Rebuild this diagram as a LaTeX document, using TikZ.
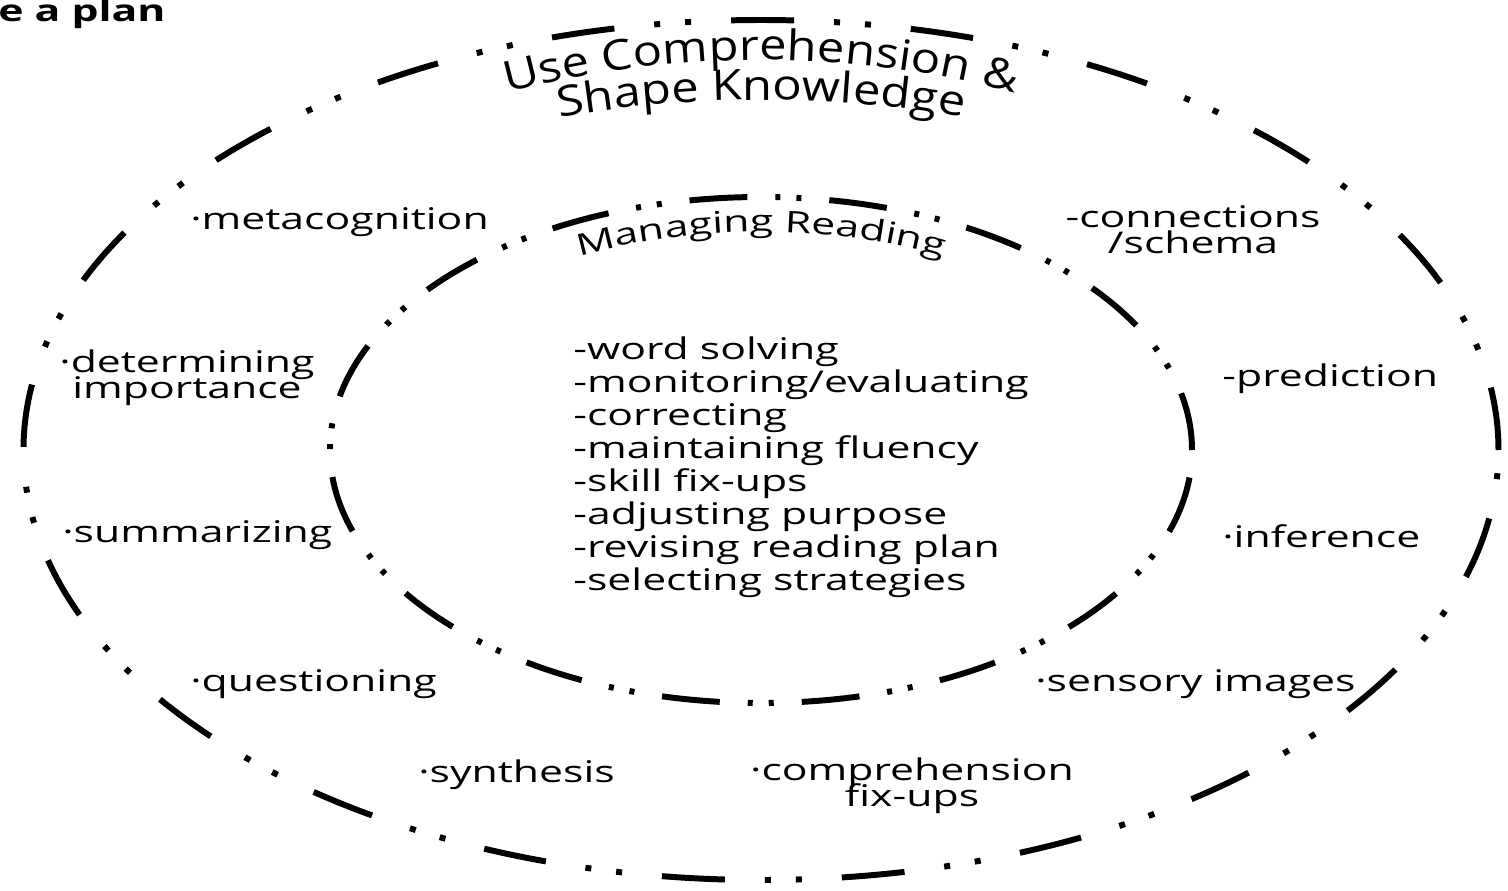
\documentclass[tikz,border=0pt]{standalone}
\usepackage{fontspec}
\setmainfont{Open Sans}[FakeStretch=1.43]
\newfontfamily\ringtitlefamily{Open Sans}[FakeStretch=1.16]
\usetikzlibrary{decorations.text}

\newcommand{\ringtitlefont}{\ringtitlefamily\fontsize{24}{28}\selectfont}
\newcommand{\ringlabelfont}{\fontsize{17}{20}\selectfont}

\begin{document}
\begin{tikzpicture}[font=\fontsize{17}{18.8}\selectfont, inner sep=0pt]
	\tikzstyle{ring}=[line width=3.4pt]
	\tikzstyle{outer ring}=[ring, dash pattern=on 1.26cm off 0.8cm on 0.12cm off 0.5cm on 0.12cm off 0.8cm]
	\tikzstyle{inner ring}=[ring, dash pattern=on 1.16cm off 0.56cm on 0.1cm off 0.32cm on 0.1cm off 0.56cm]
	\tikzstyle{item}=[anchor=base west]
	\tikzstyle{two line}=[align=center]
	\tikzstyle{curved}=[decorate, decoration={text along path, text align=center}]
	
	% Fix the page size
	\useasboundingbox (-15.22,-8.8) rectangle (14.94,9.0);
	
	% Draw the two rings
	\draw[outer ring] (0,0) ellipse [x radius=14.75, y radius=8.6];
	\draw[inner ring] (0,0) ellipse [x radius=8.62, y radius=5.06];
	
	% Heading, cut at the left edge
	\node[item, font=\bfseries\fontsize{17}{20}\selectfont] (plan) at (-15.26,8.56) {e a plan};
	
	% Ring titles along the arcs
	\path[curved, decoration={text={|\ringtitlefont|Use Comprehension {\&}}}]
		(150:12.6 and 7.8) arc [start angle=150, end angle=30, x radius=12.6, y radius=7.8];
	\path[curved, decoration={text={|\ringtitlefont|Shape Knowledge}}]
		(150:12.9 and 7.0) arc [start angle=150, end angle=30, x radius=12.9, y radius=7.0];
	\path[curved, decoration={text={|\ringlabelfont|Managing Reading}}]
		(160:7.9 and 4.36) arc [start angle=160, end angle=20, x radius=7.9, y radius=4.36];
	
	% Draw the list inside the inner ring
	\foreach \txt [count=\i] in {word solving, monitoring/evaluating, correcting, maintaining fluency,
		skill fix-ups, adjusting purpose, revising reading plan, selecting strategies}
	\node[item] (S-\i) at (-3.76,2.48-0.66*\i) {-\txt};
	
	% Draw the items between the rings
	\node[item] (meta) at (-11.42,4.42) {·metacognition};
	\node[two line] (impo) at (-11.48,1.44) {·determining\\[-4pt]importance};
	\node[item] (summ) at (-13.98,-1.84) {·summarizing};
	\node[item] (ques) at (-11.42,-4.82) {·questioning};
	\node[item] (synt) at (-6.86,-6.64) {·synthesis};
	\node[two line] (comp) at (3.02,-6.72) {·comprehension\\[-4pt]fix-ups};
	\node[item] (sens) at (5.48,-4.82) {·sensory images};
	\node[item] (infe) at (9.22,-1.94) {·inference};
	\node[item] (pred) at (9.22,1.28) {-prediction};
	\node[two line] (conn) at (8.64,4.4) {-connections\\[-4pt]/schema};
\end{tikzpicture}
\end{document}
